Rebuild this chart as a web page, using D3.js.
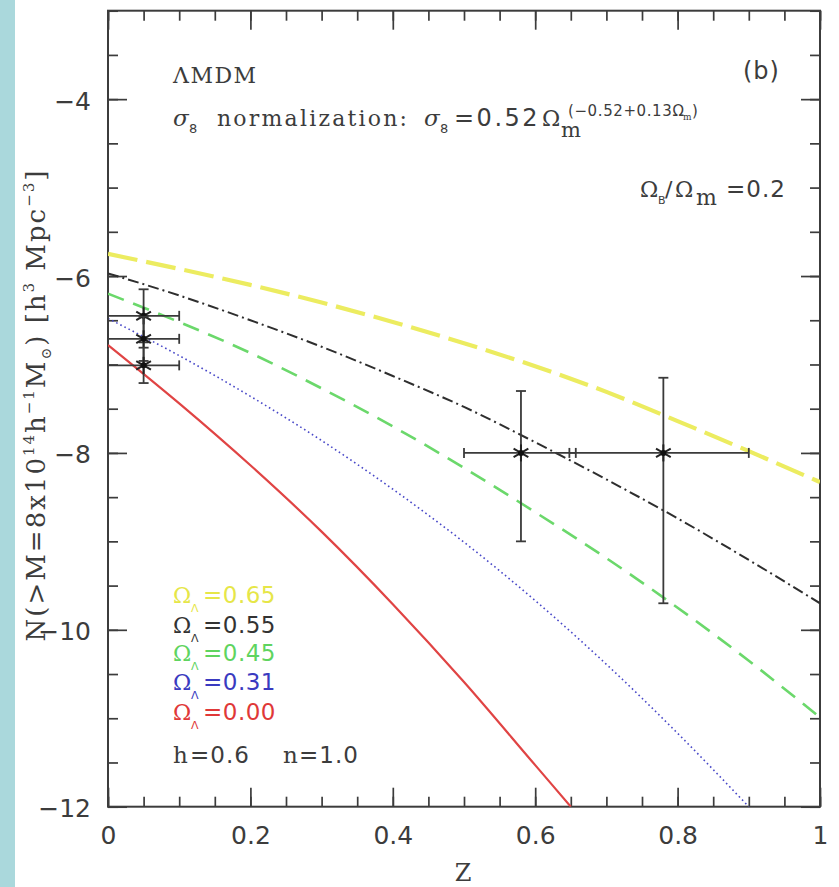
<!DOCTYPE html>
<html>
<head>
<meta charset="utf-8">
<script src="https://cdn.jsdelivr.net/npm/d3@7/dist/d3.min.js"></script>
<style>
  html, body { margin: 0; padding: 0; background: #ffffff; }
  svg { display: block; }
</style>
</head>
<body>
<svg id="chart" width="839" height="887"></svg>
<script>
// ---- data -------------------------------------------------------------
// Cumulative cluster abundance log N(>M) versus redshift, one model per Omega_Lambda
const zSteps = [0, 0.1, 0.2, 0.3, 0.4, 0.5, 0.6, 0.7, 0.8, 0.9, 1.0];
const nLambda065 = [-5.75, -5.92, -6.10, -6.30, -6.52, -6.76, -7.02, -7.31, -7.64, -7.98, -8.33];
const nLambda055 = [-5.97, -6.22, -6.50, -6.80, -7.13, -7.48, -7.88, -8.30, -8.74, -9.21, -9.70];
const nLambda045 = [-6.20, -6.52, -6.87, -7.27, -7.70, -8.17, -8.67, -9.19, -9.75, -10.35, -10.99];
const zLambda031 = [0, 0.1, 0.2, 0.3, 0.4, 0.5, 0.6, 0.7, 0.8, 0.9];
const nLambda031 = [-6.48, -6.90, -7.36, -7.86, -8.41, -9.01, -9.67, -10.39, -11.17, -12.0];
const zLambda000 = [0, 0.1, 0.2, 0.3, 0.4, 0.5, 0.6, 0.65];
const nLambda000 = [-6.78, -7.44, -8.14, -8.89, -9.71, -10.59, -11.53, -12.0];

// Observed cluster abundances with error bars
const obsZ   = [0.05, 0.05, 0.05, 0.58, 0.78];
const obsN   = [-6.45, -6.71, -7.01, -8.0, -8.0];
const obsZlo = [0, 0, 0, 0.5, 0.648];
const obsZhi = [0.1, 0.1, 0.1, 0.657, 0.9];
const obsNlo = [-6.75, -6.96, -7.21, -9.0, -9.7];
const obsNhi = [-6.15, -6.46, -6.81, -7.3, -7.15];

// Axis ticks
const xTickValues = [0, 0.2, 0.4, 0.6, 0.8, 1];
const xTickLabels = ["0", "0.2", "0.4", "0.6", "0.8", "1"];
const yTickValues = [-12, -10, -8, -6, -4];
const yTickLabels = ["\u221212", "\u221210", "\u22128", "\u22126", "\u22124"];

// Legend entries
const legendValues = ["0.65", "0.55", "0.45", "0.31", "0.00"];
const legendColors = ["#e6e648", "#333333", "#5fd45f", "#3a3ac0", "#e03838"];

// ---- layout -----------------------------------------------------------
const svg = d3.select("#chart");
const plotL = 108, plotR = 820, plotT = 10.7, plotB = 806.7;
const x = d3.scaleLinear().domain([0, 1]).range([plotL, plotR]);
const y = d3.scaleLinear().domain([-12, -3]).range([plotB, plotT]);
const ink = "#3c3c3c";
const sans = "'DejaVu Sans', 'Liberation Sans', sans-serif";
const serif = "'DejaVu Serif', 'Liberation Serif', serif";

// pale blue strip on the page edge
svg.append("rect").attr("x", 0).attr("y", 0).attr("width", 15).attr("height", 887)
  .attr("fill", "#aad8dc");

svg.append("defs").append("clipPath").attr("id", "plotClip")
  .append("rect").attr("x", plotL).attr("y", plotT).attr("width", plotR - plotL).attr("height", plotB - plotT);

// ---- axes (inward ticks on all four sides) -----------------------------
const xMinor = d3.range(0, 1.0001, 0.05).map(v => +v.toFixed(2));
const yMinor = d3.range(-12, -2.999, 0.5);

function styleAxis(g) {
  g.select(".domain").remove();
  g.selectAll(".tick line").attr("stroke", ink).attr("stroke-width", 1.7);
  g.selectAll(".tick text").attr("fill", ink).attr("font-family", sans).attr("font-size", 25);
}

// bottom
svg.append("g").attr("transform", `translate(0,${plotB})`)
  .call(d3.axisBottom(x).tickValues(xMinor).tickSize(-10).tickFormat(""))
  .call(styleAxis);
svg.append("g").attr("transform", `translate(0,${plotB})`)
  .call(d3.axisBottom(x).tickValues(xTickValues).tickSize(-19).tickPadding(20)
    .tickFormat((d, i) => xTickLabels[i]))
  .call(styleAxis);
// top
svg.append("g").attr("transform", `translate(0,${plotT})`)
  .call(d3.axisTop(x).tickValues(xMinor).tickSize(-10).tickFormat(""))
  .call(styleAxis);
svg.append("g").attr("transform", `translate(0,${plotT})`)
  .call(d3.axisTop(x).tickValues(xTickValues).tickSize(-19).tickFormat(""))
  .call(styleAxis);
// left
svg.append("g").attr("transform", `translate(${plotL},0)`)
  .call(d3.axisLeft(y).tickValues(yMinor).tickSize(-10).tickFormat(""))
  .call(styleAxis);
const yAxisL = svg.append("g").attr("transform", `translate(${plotL},0)`)
  .call(d3.axisLeft(y).tickValues(yTickValues).tickSize(-19).tickPadding(17)
    .tickFormat((d, i) => yTickLabels[i]))
  .call(styleAxis);
yAxisL.selectAll(".tick text").attr("dy", "0.4em");
// right
svg.append("g").attr("transform", `translate(${plotR},0)`)
  .call(d3.axisRight(y).tickValues(yMinor).tickSize(-10).tickFormat(""))
  .call(styleAxis);
svg.append("g").attr("transform", `translate(${plotR},0)`)
  .call(d3.axisRight(y).tickValues(yTickValues).tickSize(-19).tickFormat(""))
  .call(styleAxis);

// frame
svg.append("rect").attr("x", plotL).attr("y", plotT).attr("width", plotR - plotL).attr("height", plotB - plotT)
  .attr("fill", "none").attr("stroke", ink).attr("stroke-width", 2);

// ---- model curves ---------------------------------------------------------
const line = d3.line().x(d => x(d[0])).y(d => y(d[1])).curve(d3.curveMonotoneX);
const curves = [
  { z: zSteps, n: nLambda065, color: "#ecec60", width: 4.2, dash: "30,9" },
  { z: zSteps, n: nLambda055, color: "#2e2e2e", width: 2, dash: "11,4,2,4" },
  { z: zSteps, n: nLambda045, color: "#6bd86b", width: 2.6, dash: "17,10" },
  { z: zLambda031, n: nLambda031, color: "#4848c8", width: 1.6, dash: "1.6,3" },
  { z: zLambda000, n: nLambda000, color: "#e04444", width: 2.2, dash: null }
];
const curveG = svg.append("g").attr("clip-path", "url(#plotClip)");
curves.forEach(c => {
  curveG.append("path")
    .datum(c.z.map((z, i) => [z, c.n[i]]))
    .attr("d", line)
    .attr("fill", "none")
    .attr("stroke", c.color)
    .attr("stroke-width", c.width)
    .attr("stroke-dasharray", c.dash);
});

// ---- observations ------------------------------------------------------
const obsG = svg.append("g").attr("stroke", "#3a3a3a").attr("stroke-width", 1.8).attr("fill", "none");
const cap = 5;
obsZ.forEach((z, i) => {
  const cx = x(z), cy = y(obsN[i]);
  const x0 = x(obsZlo[i]), x1 = x(obsZhi[i]);
  const y0 = y(obsNlo[i]), y1 = y(obsNhi[i]);
  obsG.append("line").attr("x1", x0).attr("x2", x1).attr("y1", cy).attr("y2", cy);
  obsG.append("line").attr("x1", x0).attr("x2", x0).attr("y1", cy - cap).attr("y2", cy + cap);
  obsG.append("line").attr("x1", x1).attr("x2", x1).attr("y1", cy - cap).attr("y2", cy + cap);
  obsG.append("line").attr("x1", cx).attr("x2", cx).attr("y1", y0).attr("y2", y1);
  obsG.append("line").attr("x1", cx - cap).attr("x2", cx + cap).attr("y1", y0).attr("y2", y0);
  obsG.append("line").attr("x1", cx - cap).attr("x2", cx + cap).attr("y1", y1).attr("y2", y1);
  // asterisk marker
  const r = 8.5;
  [90, 30, 150].forEach(a => {
    const dx = r * Math.cos(a * Math.PI / 180), dy = r * Math.sin(a * Math.PI / 180);
    obsG.append("line").attr("x1", cx - dx).attr("x2", cx + dx).attr("y1", cy - dy).attr("y2", cy + dy)
      .attr("stroke", "#222").attr("stroke-width", 2);
  });
  obsG.append("circle").attr("cx", cx).attr("cy", cy).attr("r", 3).attr("fill", "#111").attr("stroke", "none");
});

// ---- annotations --------------------------------------------------------
function label(str, xp, yp, size, family, color, opts) {
  const o = opts || {};
  const t = svg.append("text").attr("x", xp).attr("y", yp).text(str)
    .attr("fill", color || ink).attr("font-size", size).attr("font-family", family)
    .attr("text-anchor", o.anchor || "start");
  if (o.ls) t.attr("letter-spacing", o.ls);
  if (o.italic) t.attr("font-style", "italic");
  return t;
}

label("\u039BMDM", 173, 83, 22, serif, ink, { ls: 1.5 });
label("(b)", 743, 79, 24, sans, ink, { ls: 1 });

// sigma_8 normalization line
label("\u03C3", 173, 126, 23, serif, ink, { italic: true });
label("8", 189, 133, 13, sans);
label("normalization:", 217, 126, 22, serif, ink, { ls: 2.2 });
label("\u03C3", 424, 126, 23, serif, ink, { italic: true });
label("8", 440, 133, 13, sans);
label("=0.52", 454, 126, 24, sans, ink, { ls: 2.5 });
label("\u03A9", 542, 126, 22, serif);
label("m", 561, 137, 21, serif);
label("(\u22120.52+0.13\u03A9", 568, 116, 15, sans, ink, { ls: 0.6 });
label("m", 683, 120, 9, serif);
label(")", 692, 116, 15, sans);

// baryon fraction
label("\u03A9", 640, 197, 22, serif);
label("B", 658, 204, 11, sans);
label("/", 665, 197, 22, sans);
label("\u03A9", 675, 197, 22, serif);
label("m", 696, 205, 22, serif);
label("=0.2", 726, 197, 23, sans, ink, { ls: 1 });

// legend
const legendBase = [603, 633, 661, 690, 720];
legendValues.forEach((v, i) => {
  label("\u03A9", 173, legendBase[i], 22, serif, legendColors[i]);
  label("\u039B", 191, legendBase[i] + 9, 11, sans, legendColors[i]);
  label("=" + v, 203, legendBase[i], 23, sans, legendColors[i], { ls: 0.5 });
});
label("h", 173, 763, 23, serif);
label("=0.6", 190, 763, 23, sans, ink, { ls: 1 });
label("n", 283, 763, 23, serif);
label("=1.0", 299, 763, 23, sans, ink, { ls: 1 });

// axis titles
label("Z", 463, 881, 24, serif, ink, { anchor: "middle" });
const yTitle = svg.append("text").attr("transform", "translate(45,405) rotate(-90)")
  .attr("text-anchor", "middle").attr("fill", ink).attr("font-family", serif).attr("font-size", 26)
  .attr("letter-spacing", 2);
[
  { t: "N(>M=8x10" },
  { t: "14", size: 15, dy: -11 },
  { t: "h", dy: 11 },
  { t: "\u22121", size: 15, dy: -11 },
  { t: "M", dy: 11 },
  { t: "\u2299", size: 14, dy: 6 },
  { t: ")  [h", dy: -6 },
  { t: "3", size: 15, dy: -11 },
  { t: " Mpc", dy: 11 },
  { t: "\u22123", size: 15, dy: -11 },
  { t: "]", dy: 11 }
].forEach(p => {
  const s = yTitle.append("tspan").text(p.t);
  if (p.dy) s.attr("dy", p.dy);
  if (p.size) s.attr("font-size", p.size);
});
</script>
</body>
</html>
